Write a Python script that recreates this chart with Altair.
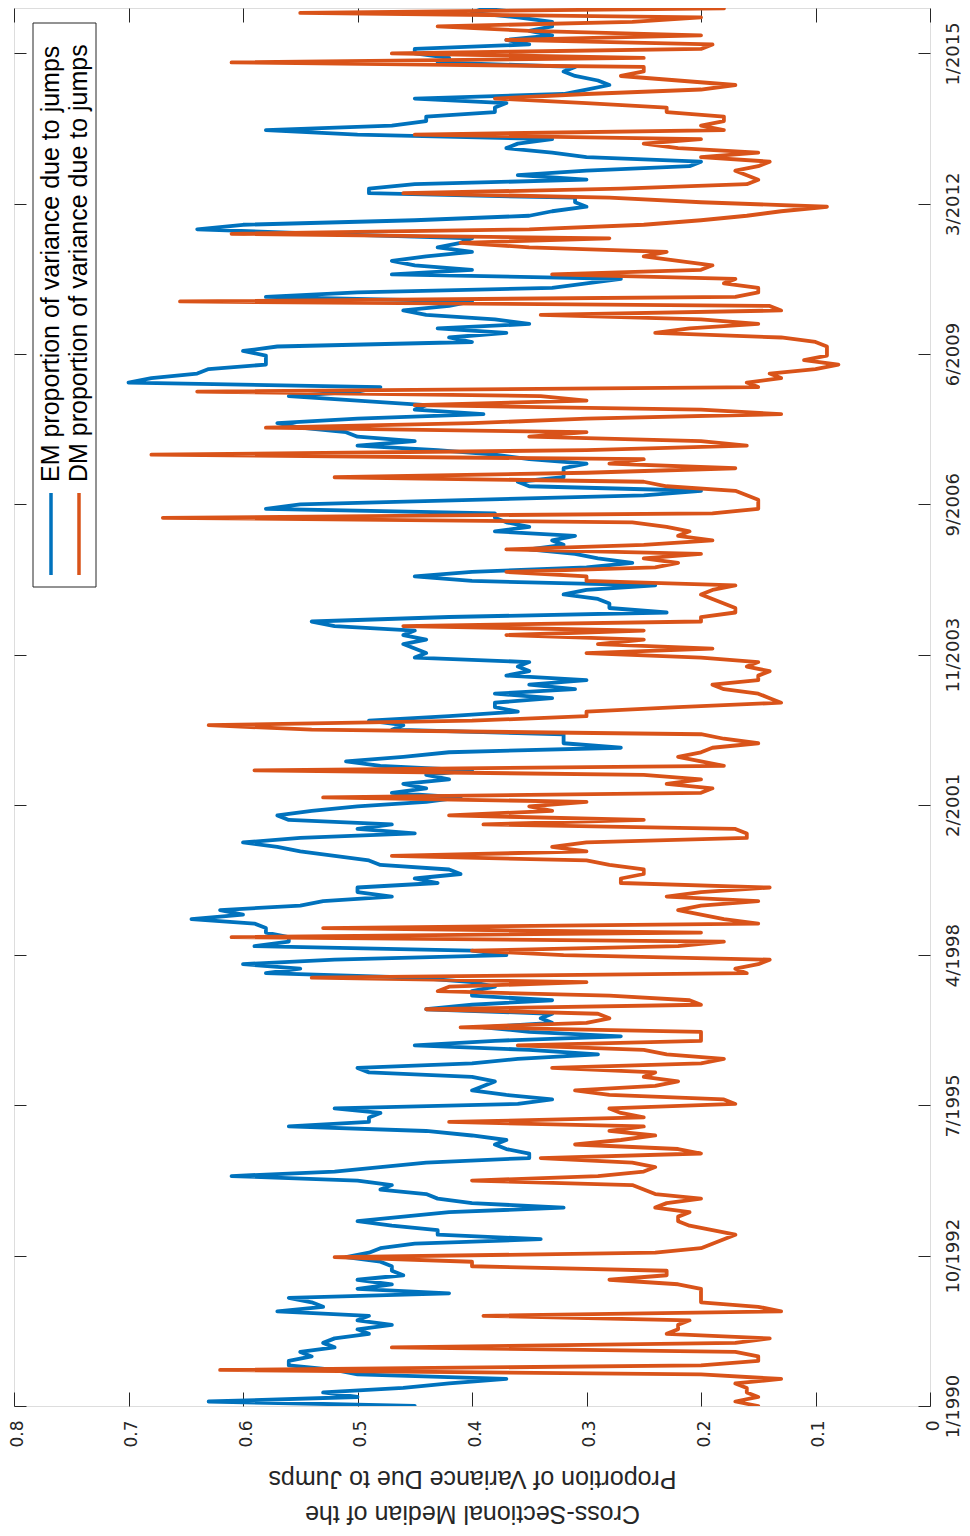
import altair as alt
import pandas as pd

# Monthly samples, Jan 1990 onward
EM = [
    0.45, 0.63, 0.50, 0.53, 0.46, 0.42, 0.37, 0.50, 0.52, 0.56,
    0.56, 0.54, 0.55, 0.52, 0.53, 0.52, 0.49, 0.50, 0.47, 0.50,
    0.49, 0.57, 0.53, 0.54, 0.56, 0.42, 0.50, 0.47, 0.50, 0.46,
    0.47, 0.47, 0.48, 0.51, 0.49, 0.48, 0.45, 0.34, 0.43, 0.43,
    0.47, 0.50, 0.46, 0.42, 0.32, 0.40, 0.43, 0.44, 0.48, 0.47,
    0.50, 0.61, 0.52, 0.48, 0.44, 0.35, 0.35, 0.37, 0.38, 0.37,
    0.40, 0.44, 0.56, 0.49, 0.49, 0.48, 0.52, 0.36, 0.33, 0.37,
    0.40, 0.39, 0.38, 0.40, 0.49, 0.50, 0.40, 0.36, 0.29, 0.35,
    0.45, 0.38, 0.27, 0.35, 0.39, 0.33, 0.34, 0.33, 0.44, 0.40,
    0.33, 0.40, 0.40, 0.38, 0.40, 0.45, 0.58, 0.55, 0.60, 0.52,
    0.37, 0.40, 0.59, 0.56, 0.56, 0.58, 0.58, 0.59, 0.645, 0.60,
    0.62, 0.55, 0.53, 0.47, 0.50, 0.50, 0.43, 0.45, 0.41, 0.42,
    0.48, 0.49, 0.52, 0.55, 0.57, 0.60, 0.55, 0.45, 0.50, 0.47,
    0.56, 0.57, 0.54, 0.50, 0.44, 0.41, 0.47, 0.44, 0.46, 0.42,
    0.44, 0.40, 0.48, 0.51, 0.46, 0.42, 0.27, 0.32, 0.32, 0.32,
    0.47, 0.46, 0.49, 0.42, 0.36, 0.38, 0.38, 0.33, 0.38, 0.31,
    0.35, 0.30, 0.37, 0.35, 0.36, 0.35, 0.45, 0.44, 0.45, 0.46,
    0.44, 0.46, 0.45, 0.52, 0.54, 0.42, 0.23, 0.28, 0.28, 0.29,
    0.32, 0.30, 0.24, 0.40, 0.45, 0.40, 0.30, 0.26, 0.29, 0.31,
    0.35, 0.32, 0.33, 0.31, 0.38, 0.35, 0.37, 0.38, 0.38, 0.58,
    0.55, 0.40, 0.25, 0.20, 0.35, 0.36, 0.32, 0.32, 0.32, 0.30,
    0.35, 0.38, 0.43, 0.50, 0.45, 0.50, 0.51, 0.55, 0.57, 0.50,
    0.39, 0.45, 0.44, 0.50, 0.56, 0.50, 0.48, 0.70, 0.68, 0.64,
    0.63, 0.58, 0.58, 0.58, 0.60, 0.57, 0.40, 0.42, 0.37, 0.43,
    0.35, 0.38, 0.44, 0.46, 0.42, 0.40, 0.58, 0.50, 0.33, 0.30,
    0.27, 0.47, 0.40, 0.45, 0.47, 0.44, 0.40, 0.43, 0.41, 0.40,
    0.53, 0.64, 0.60, 0.45, 0.35, 0.33, 0.30, 0.31, 0.31, 0.49,
    0.49, 0.45, 0.30, 0.36, 0.30, 0.21, 0.20, 0.30, 0.33, 0.37,
    0.36, 0.33, 0.50, 0.58, 0.47, 0.44, 0.44, 0.38, 0.38, 0.37,
    0.45, 0.32, 0.30, 0.28, 0.29, 0.31, 0.32, 0.31, 0.43, 0.42,
    0.45, 0.45, 0.35, 0.37, 0.33, 0.35, 0.33, 0.33, 0.36, 0.40,
    0.39, 0.35,
]

DM = [
    0.15, 0.17, 0.15, 0.16, 0.16, 0.17, 0.13, 0.20, 0.62, 0.20,
    0.15, 0.15, 0.17, 0.47, 0.17, 0.14, 0.23, 0.22, 0.22, 0.21,
    0.39, 0.13, 0.15, 0.20, 0.20, 0.20, 0.20, 0.22, 0.28, 0.23,
    0.23, 0.40, 0.40, 0.52, 0.24, 0.20, 0.19, 0.18, 0.17, 0.19,
    0.21, 0.22, 0.22, 0.21, 0.24, 0.23, 0.20, 0.24, 0.25, 0.26,
    0.40, 0.29, 0.25, 0.24, 0.26, 0.34, 0.20, 0.22, 0.31, 0.27,
    0.24, 0.28, 0.25, 0.42, 0.25, 0.27, 0.28, 0.17, 0.18, 0.28,
    0.31, 0.24, 0.22, 0.25, 0.24, 0.33, 0.20, 0.18, 0.23, 0.25,
    0.36, 0.20, 0.20, 0.20, 0.41, 0.30, 0.28, 0.29, 0.44, 0.20,
    0.21, 0.28, 0.43, 0.42, 0.30, 0.54, 0.16, 0.17, 0.15, 0.14,
    0.32, 0.40, 0.22, 0.18, 0.61, 0.20, 0.53, 0.15, 0.18, 0.20,
    0.22, 0.20, 0.15, 0.23, 0.20, 0.14, 0.27, 0.27, 0.25, 0.25,
    0.28, 0.30, 0.47, 0.30, 0.33, 0.30, 0.16, 0.16, 0.17, 0.39,
    0.25, 0.42, 0.33, 0.35, 0.30, 0.53, 0.20, 0.19, 0.23, 0.20,
    0.25, 0.59, 0.18, 0.20, 0.22, 0.20, 0.19, 0.15, 0.18, 0.20,
    0.54, 0.63, 0.40, 0.30, 0.30, 0.22, 0.13, 0.14, 0.15, 0.18,
    0.19, 0.15, 0.15, 0.14, 0.16, 0.15, 0.20, 0.30, 0.19, 0.29,
    0.25, 0.37, 0.25, 0.46, 0.20, 0.20, 0.17, 0.17, 0.18, 0.19,
    0.20, 0.19, 0.17, 0.30, 0.30, 0.37, 0.24, 0.22, 0.25, 0.20,
    0.37, 0.25, 0.19, 0.22, 0.21, 0.23, 0.26, 0.67, 0.19, 0.15,
    0.15, 0.15, 0.16, 0.17, 0.23, 0.25, 0.52, 0.30, 0.17, 0.28,
    0.25, 0.68, 0.30, 0.16, 0.20, 0.35, 0.30, 0.58, 0.40, 0.30,
    0.13, 0.20, 0.45, 0.30, 0.34, 0.64, 0.15, 0.16, 0.13, 0.14,
    0.10, 0.08, 0.11, 0.09, 0.09, 0.09, 0.10, 0.13, 0.24, 0.21,
    0.15, 0.20, 0.34, 0.13, 0.14, 0.655, 0.17, 0.15, 0.15, 0.18,
    0.17, 0.33, 0.20, 0.19, 0.22, 0.25, 0.23, 0.35, 0.41, 0.28,
    0.61, 0.35, 0.25, 0.20, 0.16, 0.13, 0.09, 0.20, 0.28, 0.46,
    0.27, 0.16, 0.15, 0.16, 0.17, 0.15, 0.14, 0.20, 0.15, 0.22,
    0.25, 0.20, 0.45, 0.18, 0.20, 0.18, 0.18, 0.23, 0.23, 0.30,
    0.38, 0.30, 0.20, 0.17, 0.22, 0.27, 0.25, 0.25, 0.61, 0.25,
    0.47, 0.20, 0.19, 0.37, 0.20, 0.35, 0.43, 0.26, 0.20, 0.55,
    0.18, 0.20,
]

SERIES_NAMES = ["EM proportion of variance due to jumps",
                "DM proportion of variance due to jumps"]
SERIES_COLORS = ["#0072BD", "#D95319"]
TIME_TICK_LABELS = ["1/1990", "10/1992", "7/1995", "4/1998", "2/2001",
                    "11/2003", "9/2006", "6/2009", "3/2012", "1/2015"]
VALUE_TICKS = [0, 0.1, 0.2, 0.3, 0.4, 0.5, 0.6, 0.7, 0.8]
Y_TITLE = ["Cross-Sectional Median of the", "Proportion of Variance Due to Jumps"]

START = 1990.0
TICK_SPAN = 25.0  # years between first and last labelled tick
time_ticks = [START + k * TICK_SPAN / (len(TIME_TICK_LABELS) - 1)
              for k in range(len(TIME_TICK_LABELS))]

W, H = 916, 1398
T_DOMAIN = [1990.0, 2015.84]
V_DOMAIN = [0, 0.8]

rows = []
for name, series in (("EM", EM), ("DM", DM)):
    for i, val in enumerate(series):
        rows.append({"t": START + i / 12.0, "v": val, "s": name})
df = pd.DataFrame(rows)

label_expr = "[" + ",".join("'%s'" % s for s in TIME_TICK_LABELS) + "]" \
    + "[round((datum.value - %g) * %g)]" % (START, (len(TIME_TICK_LABELS) - 1) / TICK_SPAN)

AX = "#262626"
TICK_FONT = "DejaVu Sans"
TEXT_FONT = "Liberation Sans"

xs = alt.Scale(domain=V_DOMAIN, reverse=True, nice=False, zero=False)
ys = alt.Scale(domain=T_DOMAIN, nice=False, zero=False)

x_main = alt.X("v:Q", scale=xs, axis=alt.Axis(
    orient="bottom", values=VALUE_TICKS, format=".1~f", offset=-14, tickSize=14,
    tickColor=AX, domain=False, grid=False, labelAngle=270, labelAlign="right",
    labelBaseline="middle", labelPadding=14, labelOffset=3, labelFont=TICK_FONT,
    labelFontSize=17, labelColor=AX, title=Y_TITLE, titleAngle=180,
    titleBaseline="bottom", titleFont=TEXT_FONT, titleFontSize=25,
    titleFontWeight="normal", titleColor=AX, titleLineHeight=35, titleY=108))
y_main = alt.Y("t:Q", scale=ys, axis=alt.Axis(
    orient="right", values=time_ticks, labelExpr=label_expr, offset=-12, tickSize=12,
    tickColor=AX, domain=False, grid=False, labelAngle=270, labelAlign="center",
    labelBaseline="top", labelPadding=14, labelFont=TICK_FONT, labelFontSize=18,
    labelColor=AX, title=None))

em_line = alt.Chart(df).transform_filter(alt.datum.s == "EM").mark_line(
    color=SERIES_COLORS[0], strokeWidth=3.8, strokeJoin="round", strokeCap="round",
    clip=True).encode(x=x_main, y=y_main, order="t:Q")

dm_line = alt.Chart(df).transform_filter(alt.datum.s == "DM").mark_line(
    color=SERIES_COLORS[1], strokeWidth=3.8, strokeJoin="round", strokeCap="round",
    clip=True).encode(
    x=alt.X("v:Q", scale=xs, axis=None),
    y=alt.Y("t:Q", scale=ys, axis=None), order="t:Q")

# mirrored inward ticks on the opposite sides of the box
anchor = pd.DataFrame({"t": [T_DOMAIN[0]], "v": [V_DOMAIN[0]]})
mirror = alt.Chart(anchor).mark_point(opacity=0).encode(
    x=alt.X("v:Q", scale=xs, axis=alt.Axis(
        orient="top", values=VALUE_TICKS, offset=-14, tickSize=14, tickColor=AX,
        labels=False, domain=False, grid=False, title=None)),
    y=alt.Y("t:Q", scale=ys, axis=alt.Axis(
        orient="left", values=time_ticks, offset=-12, tickSize=12, tickColor=AX,
        labels=False, domain=False, grid=False, title=None)))

one = pd.DataFrame({"k": [0]})
legend_box = alt.Chart(one).mark_rect(fill="white", stroke=AX, strokeWidth=1).encode(
    x=alt.value(19), x2=alt.value(82), y=alt.value(15), y2=alt.value(579))

legend_layers = []
for i, (name, col) in enumerate(zip(SERIES_NAMES, SERIES_COLORS)):
    cx = 37 + 28 * i
    legend_layers.append(alt.Chart(one).mark_rule(color=col, strokeWidth=3.5).encode(
        x=alt.value(cx), y=alt.value(485), y2=alt.value(567)))
    legend_layers.append(alt.Chart(one).mark_text(
        angle=270, align="left", baseline="middle", font=TEXT_FONT, fontSize=25,
        color="black").encode(x=alt.value(cx), y=alt.value(474), text=alt.value(name)))

chart = alt.layer(em_line, dm_line, mirror, legend_box, *legend_layers).resolve_axis(
    x="independent", y="independent"
).properties(
    width=W, height=H,
    autosize=alt.AutoSizeParams(type="none"),
    padding={"left": 6, "top": 0, "right": 32, "bottom": 122},
).configure_view(stroke=AX, strokeWidth=1).configure(background="white")

chart.save("out.html", embed_options={"renderer": "svg", "actions": False})
